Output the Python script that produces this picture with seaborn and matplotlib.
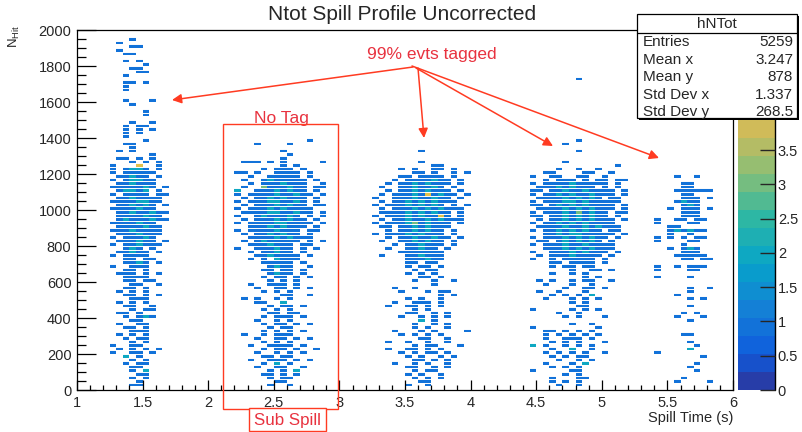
import numpy as np
import pandas as pd
import matplotlib
matplotlib.use("Agg")
import matplotlib.pyplot as plt
from matplotlib.colors import LinearSegmentedColormap, ListedColormap
from matplotlib.patches import Rectangle
from matplotlib.lines import Line2D
from matplotlib.ticker import MultipleLocator, FormatStrFormatter
import seaborn as sns

# ---------------------------------------------------------------- data
# histogram binning (x: spill time, y: N_Hit)
X_LO, X_HI, X_BIN = 1.0, 6.0, 0.05
Y_LO, Y_HI, Y_BIN = 0, 2000, 20

# occupied cells, one string per y-row (row index -> 20*row),
# one character per x-bin starting at the given first bin; '.' = empty, digit = entries
spill1_first_bin = 4
spill1_rows = {
    97: "....1", 96: "..1", 95: "....11", 94: "..1", 93: "...11",
    91: "...1.1", 90: "......1", 89: "....11", 88: ".....11", 87: "...1",
    85: "...11.1", 84: "...1", 83: "...1", 80: "...1...1", 79: "....1",
    77: "......1", 76: "......1", 74: "....1..1", 73: "...1.11", 72: "...1.1.1",
    71: "...1.1", 70: "...1", 69: "......1", 68: "...11", 67: "....1",
    66: "..1.1", 65: ".......1", 64: "..11.1.1", 63: "....1.1.1", 62: ".1...4..1",
    61: ".1.1221.1", 60: ".1.11111", 59: "..11211.1", 58: ".1.12211", 57: "..112111",
    56: ".1111121.1", 55: "..12212.1", 54: ".1.1111.11", 53: "..1121111", 52: ".11112211",
    51: "..112121.1", 50: ".1111211", 49: "..11211211", 48: "..1111211", 47: "..12111211",
    46: ".1111211", 45: "..1111211", 44: ".11121111", 43: "..1112111", 42: ".1.11121",
    41: "..111211.1", 40: ".1.112111", 39: "...121.1", 38: "..11211.1", 37: ".1.1111",
    36: "...11.11", 35: "...1121.1", 34: ".1..111", 33: "...11.1", 32: "..111.1.1",
    31: "...1111", 30: "...11.11", 29: "....11..1", 28: "...11.1", 27: "..1.1.1",
    26: "...11.1.1", 25: "....111", 24: "..1.1.1", 23: "...11..1", 22: "....1.11",
    21: "..11.1", 20: "...1.121", 19: "....11", 18: "..1..11", 17: "...11.1",
    16: "....111", 15: "..1.1.1", 14: "...1.11", 13: "....1.1", 12: ".1..11",
    11: "..1.1.1.1", 10: ".1..11.1", 9: "...2.1", 8: "....1.1", 7: "...1.11",
    6: "....11", 5: "....1.2", 4: ".....11", 3: "....1.1", 2: ".....1", 1: "....11",
}

spill2_first_bin = 23
spill2_rows = {
    69: "............1", 68: "....1....1", 66: "........1", 65: ".........1", 64: "........1",
    63: "..111.1.1.....1", 62: "........1.1", 61: ".....1.111.1", 60: ".11.1..1111.1",
    59: "...1..11111.1", 58: "..1..1211111.1", 57: "...1.1112111..1", 56: "..1..3111211.11",
    55: ".2..11121211.1", 54: ".1.1111211211.1", 53: "..1.11212111.1", 52: ".1.111221121.1",
    51: "..1.11121211.11", 50: ".1.1112121111", 49: "..11112211211.1", 48: ".1..1211121.1.1",
    47: "..1.11121211.1", 46: ".1.1111221111.1", 45: "...111212111.1", 44: ".1.11112111.11",
    43: "..1.1121211.1", 42: "...1111212111", 41: "..1.1211111.1.1", 40: "...1112111.11",
    39: ".1..111211.1.1", 38: "...1.11211.1", 37: "....1121111.1", 36: "...1.1.2111",
    35: ".....11111.1", 34: "......1211..1", 33: ".....11.11.1", 32: "......1211.1",
    31: ".....1.11.1.1", 30: "......1.1.1", 29: "...1..111.1", 28: "....1..11.1.1",
    27: ".....1.1.1", 26: "........11..1", 25: "..1.1..1.1", 24: "....11..2",
    23: "......1.11.1", 22: ".....1.1.1", 21: "......11.11", 20: ".....1.111.1",
    19: "....1..1.1", 18: ".....1.11.1.1", 17: "......1.11", 16: ".....1.1.1.1",
    15: "..1..1.111", 14: "....1..11.1.1", 13: ".....1.1.1", 12: "...1..1111.1",
    11: ".....1.11.1..1", 10: "....1..1.1.1", 9: ".....11.11", 8: "...1..111.1.1",
    7: ".....1.2.1", 6: "....1..11..1", 5: "......1.1.2", 4: ".....11.1.1",
    3: "......1.11", 2: ".......11", 1: "......1..1",
}

spill3_first_bin = 44
spill3_rows = {
    66: "........1", 63: "........1", 62: "..........11", 61: ".....1.1..11.1",
    60: ".......11.1..1.1", 59: ".....11.1111.1", 58: "....1.1111211.1", 57: "...1.11212111.1",
    56: "..1..1121121.1", 55: "...1.11212111.1", 54: "..1.1112141211.1", 53: ".1..111211211.1",
    52: "..1.1121212111", 51: ".1.111212121.1.1", 50: "..1.11121212111", 49: "..11112121211.1",
    48: ".1.1112121141.1", 47: "..1.11211212111", 46: ".1.1112312111.1", 45: "..11.11212111",
    44: "...1.1121211.1", 43: ".1.111212111.1", 42: "...1.11211211.1", 41: "..1..1121211.1",
    40: "....1.112111.1", 39: "...1..11211.1", 38: ".....1111111", 37: "..1...112111",
    36: "......111211", 35: "......11.11", 34: "......1.11.1", 33: ".......1.11",
    32: "......1.1.1", 31: "........11.1", 30: ".......1..1..1", 29: "..........1",
    28: "....1..1", 27: ".....1...1.11", 26: "...........1.1", 25: "......1.1..1",
    24: "....1..111.1", 23: "...1..11.1.1", 22: ".......1.1", 21: "......11..1.1",
    20: ".....1..1.1.1", 19: "........2.1", 18: ".......1..1.1", 17: ".......1.1..1",
    16: "....1...1.1....1", 15: ".....1.1.1.1", 14: "........11..1", 13: "...1..1..1..1",
    12: ".......1.11...1", 11: "...1..11.1.1", 10: ".....1.1.11.1", 9: "......1.1..1.1",
    8: ".......11.1.1", 7: "....1..1.1..1", 6: "......11..1.1", 5: ".......1.11",
    4: "......1.1..1", 3: ".......1.1.1", 2: "........11", 1: "......1..1",
}

spill4_first_bin = 68
spill4_rows = {
    86: "........1", 69: "........1", 68: "......1", 66: "........1", 63: "......1",
    62: "..............1", 61: ".....1..1..1", 60: "...11....11..1", 59: ".1..11..11..1",
    58: "...1.111.1.11.11", 57: ".1.1111211111.1", 56: "..111212111.1.1", 55: ".11.1121121111.1",
    54: ".1.11212112111.1", 53: "..1111212121.11", 52: ".1.111221211111", 51: ".11.1212121111.1",
    50: "..111121212111.1", 49: ".1.1112131211.11", 48: ".11.112121211.1", 47: "..1.1121212111.1",
    46: ".1.11212121111", 45: "..1111211212111", 44: ".1.112121211.11", 43: "...11212211111.1",
    42: ".1.1112121211.1", 41: "..11.1212121.1", 40: ".1.11121121111", 39: "...11121212111",
    38: ".1..111212111.1", 37: "..1.11121111.1", 36: ".1..1.11111.1", 35: "....11.1111.1",
    34: "....1.11.11", 33: ".......1..11.1", 32: "....1..1.1", 31: ".........1.1",
    30: "..1.1..1.11..1", 29: "...1...1..1", 28: "......1..11.1", 27: "..1..1...1",
    26: "....1.1.1.2", 25: "...1...1.1.1", 24: ".......1.1", 23: "........11",
    22: ".1.....1.1.1", 21: ".....1..1", 20: "......1.1...1", 18: ".......1..1",
    17: ".1.........1", 16: "...11.1.1.1", 15: "...1.1.1.1.1", 14: "...1..111.1",
    13: "....1.1.1...1", 12: ".2.1..1.1.1", 11: "....1..2..1", 10: "...1.1.1.1..1",
    9: "....1.1.11", 8: ".....1..1.1", 7: "...1...1.2", 6: "....1.1.1",
    5: ".1.....11", 4: "......1.1", 3: "....1...11", 2: "....1.1.1", 1: ".....1..1",
}

spill5_first_bin = 88
spill5_rows = {
    59: "...1..1", 57: "....11", 56: "....11", 55: "...111111", 54: "....11",
    53: "....111.1", 52: "...1211", 51: "....121", 50: "..1.111.1", 49: "....111",
    48: "....111", 47: "1..11.11", 46: "1....11", 45: "..11", 44: "..121211",
    43: "..1..1", 42: "1.1.1.11", 41: "1....11", 40: "....1", 39: "..1.121",
    38: "....111", 37: "...11111", 36: "....11.11", 34: "1..1.111", 33: "1....11",
    31: "1....1", 28: ".....1..1", 27: ".....1", 26: "...1", 25: ".....1.1",
    23: ".....1", 21: "....1.1", 20: "...1...1", 19: ".....1", 15: "....11",
    13: ".....1", 12: "......1", 11: ".....2", 10: "1", 9: ".......1",
    7: "......1", 6: ".....1", 5: "......1", 3: "....1", 2: "...1....1",
}

spills = [
    (spill1_first_bin, spill1_rows),
    (spill2_first_bin, spill2_rows),
    (spill3_first_bin, spill3_rows),
    (spill4_first_bin, spill4_rows),
    (spill5_first_bin, spill5_rows),
]

x_ticks = [1, 1.5, 2, 2.5, 3, 3.5, 4, 4.5, 5, 5.5, 6]
y_ticks = list(range(0, 2001, 200))
z_ticks = [0, 0.5, 1, 1.5, 2, 2.5, 3, 3.5]   # higher ones hidden by the stats box
Z_MAX = 5.25

stats_name = "hNTot"
stats_labels = ["Entries", "Mean x", "Mean y", "Std Dev x", "Std Dev y"]
stats_values = ["5259", "3.247", "878", "1.337", "268.5"]

title = "Ntot Spill Profile Uncorrected"
x_title = "Spill Time (s)"

# ---------------------------------------------------------------- build table
recs = []
for first_bin, rows in spills:
    for row, s in rows.items():
        for c, ch in enumerate(s):
            if ch != ".":
                recs.append({"t": X_LO + (first_bin + c + 0.5) * X_BIN,
                             "n": (row + 0.5) * Y_BIN,
                             "w": int(ch)})
df = pd.DataFrame(recs)

x_edges = np.round(np.arange(X_LO, X_HI + X_BIN / 2, X_BIN), 6)
y_edges = np.arange(Y_LO, Y_HI + Y_BIN / 2, Y_BIN)

# ROOT "kBird" palette, 20 contour levels
br = [0.2082, 0.0592, 0.0780, 0.0232, 0.1802, 0.5301, 0.8186, 0.9956, 0.9764]
bg = [0.1664, 0.3599, 0.5041, 0.6419, 0.7178, 0.7492, 0.7328, 0.7862, 0.9832]
bb = [0.5293, 0.8684, 0.8385, 0.7914, 0.6425, 0.4662, 0.3499, 0.1968, 0.0539]
bird = LinearSegmentedColormap.from_list(
    "bird", list(zip(np.linspace(0, 1, 9), zip(br, bg, bb))))
cmap = ListedColormap([bird(min((k + 0.99) / 20, 1.0)) for k in range(20)])

# ---------------------------------------------------------------- figure
sns.set_style("ticks")
plt.rcParams["font.family"] = ["Liberation Sans", "DejaVu Sans"]
plt.rcParams["mathtext.fontset"] = "custom"
plt.rcParams["mathtext.rm"] = "Liberation Sans"
plt.rcParams["mathtext.it"] = "Liberation Sans:italic"

W, H = 802, 432
fig = plt.figure(figsize=(W / 100, H / 100), dpi=100)
fig.patch.set_facecolor("white")


def fx(px):
    return px / W


def fy(py):
    return 1 - py / H


ax = fig.add_axes([fx(77), fy(390), (733 - 77) / W, 360 / H])
cax = fig.add_axes([fx(738), fy(390), 37 / W, 360 / H])

sns.histplot(data=df, x="t", y="n", weights="w", bins=(x_edges, y_edges),
             cmap=cmap, vmin=0, vmax=Z_MAX, cbar=True, cbar_ax=cax, ax=ax)

# thin white separation between histogram rows (gives the dashed look of the cells)
for yb in y_edges[1:-1]:
    ax.axhline(yb, color="white", lw=0.7, zorder=1.5)
ax.set_axisbelow(False)

ax.set_xlim(X_LO, X_HI)
ax.set_ylim(Y_LO, Y_HI)
ax.set_xticks(x_ticks)
ax.set_yticks(y_ticks)
ax.xaxis.set_major_formatter(FormatStrFormatter("%g"))
ax.xaxis.set_minor_locator(MultipleLocator(0.1))
ax.yaxis.set_minor_locator(MultipleLocator(50))
ax.tick_params(which="both", direction="in", top=False, right=False,
               labelsize=10.5, color="black", width=0.9)
ax.tick_params(axis="x", which="major", length=7.5, pad=4)
ax.tick_params(axis="x", which="minor", length=3.7)
ax.tick_params(axis="y", which="major", length=14, pad=4)
ax.tick_params(axis="y", which="minor", length=6.8)
for sp in ax.spines.values():
    sp.set_visible(True)
    sp.set_linewidth(0.9)
    sp.set_color("black")
    sp.set_zorder(3)
ax.set_ylabel("")
ax.set_xlabel(x_title, fontsize=10.5, ha="right")
ax.xaxis.set_label_coords(1.0, -0.057)
ax.grid(False)

# colorbar styling (ROOT palette axis: ticks inside, axis line on the right)
cax.set_ylim(0, Z_MAX)
cax.set_yticks(z_ticks)
cax.yaxis.set_major_formatter(FormatStrFormatter("%g"))
cax.tick_params(axis="y", direction="in", length=11, width=1.0,
                labelsize=10.5, pad=2, right=True, left=False)
cax.minorticks_off()
cax.set_axisbelow(False)
for sp in cax.spines.values():
    sp.set_visible(False)
mesh = ax.collections[0]
if getattr(mesh, "colorbar", None) is not None:
    mesh.colorbar.outline.set_visible(False)
cax.add_line(Line2D([1, 1], [0, 1], transform=cax.transAxes,
                    color="black", lw=1.0, clip_on=False))

# title and axis titles
fig.text(fx(402), fy(14), title, fontsize=15, ha="center", va="center")
fig.text(fx(14), fy(25), r"N$_{\mathrm{Hit}}$", fontsize=9.5, rotation=90,
         ha="center", va="top")

# stats box
SX0, SX1, SY0, SY1 = 637, 797, 14, 118
fig.add_artist(Rectangle((fx(SX0 + 2), fy(SY1 + 2)), (SX1 - SX0) / W, (SY1 - SY0) / H,
                         transform=fig.transFigure, facecolor="black",
                         edgecolor="none", zorder=5))
fig.add_artist(Rectangle((fx(SX0), fy(SY1)), (SX1 - SX0) / W, (SY1 - SY0) / H,
                         transform=fig.transFigure, facecolor="white",
                         edgecolor="black", lw=0.9, zorder=6))
fig.add_artist(Line2D([fx(SX0), fx(SX1)], [fy(33), fy(33)], transform=fig.transFigure,
                      color="black", lw=0.9, zorder=7))
fig.text(fx((SX0 + SX1) / 2), fy(24), stats_name, fontsize=11, ha="center",
         va="center", zorder=8)
row_y = [42, 60, 77, 95, 112]
for lab, val, yy in zip(stats_labels, stats_values, row_y):
    fig.text(fx(643), fy(yy), lab, fontsize=11, ha="left", va="center", zorder=8)
    fig.text(fx(793), fy(yy), val, fontsize=11, ha="right", va="center", zorder=8)

# annotations
RED_TXT = "#e8323f"
RED_LN = "#ff3b22"
fig.text(fx(432), fy(54), "99% evts tagged", color=RED_TXT, fontsize=12.5,
         ha="center", va="center")
arrows = [((413, 67), (172, 100)), ((418, 68), (424, 138)),
          ((416, 68), (553, 146)), ((412, 66), (659, 158))]
for (x0, y0), (x1, y1) in arrows:
    ax.annotate("", xy=(x1, H - y1), xycoords="figure pixels",
                xytext=(x0, H - y0), textcoords="figure pixels",
                arrowprops=dict(arrowstyle="-|>", color=RED_LN, lw=1.1,
                                mutation_scale=14, shrinkA=0, shrinkB=0),
                annotation_clip=False)

fig.add_artist(Rectangle((fx(223), fy(409)), (338 - 223) / W, (409 - 124) / H,
                         transform=fig.transFigure, facecolor="none",
                         edgecolor=RED_LN, lw=1.0, zorder=4))
fig.text(fx(281), fy(118), "No Tag", color=RED_TXT, fontsize=12.5,
         ha="center", va="center")
fig.add_artist(Rectangle((fx(249), fy(431)), (326 - 249) / W, (431 - 408) / H,
                         transform=fig.transFigure, facecolor="white",
                         edgecolor=RED_LN, lw=1.0, zorder=5))
fig.text(fx(287.5), fy(420), "Sub Spill", color=RED_TXT, fontsize=12.2,
         ha="center", va="center", zorder=6)

fig.savefig("out.png", dpi=100)
